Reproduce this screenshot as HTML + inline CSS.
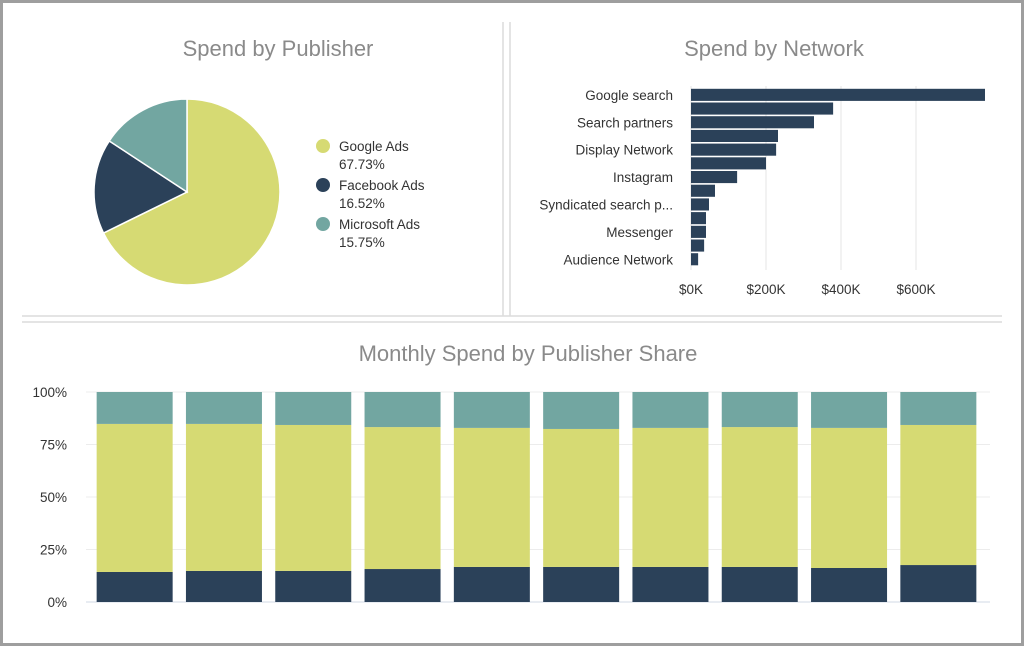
<!DOCTYPE html>
<html><head><meta charset="utf-8"><style>
body{margin:0;width:1024px;height:646px;background:#fff;font-family:"Liberation Sans",sans-serif;overflow:hidden}
#frame{position:absolute;left:0;top:0;width:1018px;height:640px;border:3px solid #9e9e9e}
.t{font-size:22px;fill:#8a8a8a}
.l{font-size:13.5px;fill:#333}
</style></head><body>
<div id="frame"></div>
<svg width="1024" height="646" style="position:absolute;left:0;top:0">
<g stroke="#dcdcdc" stroke-width="1.5">
<line x1="503" y1="22" x2="503" y2="316"/><line x1="510" y1="22" x2="510" y2="316"/>
<line x1="22" y1="316" x2="1002" y2="316"/><line x1="22" y1="322" x2="1002" y2="322"/>
</g>
<text class="t" x="278" y="56" text-anchor="middle">Spend by Publisher</text>
<text class="t" x="774" y="56" text-anchor="middle">Spend by Network</text>
<text class="t" x="528" y="361" text-anchor="middle">Monthly Spend by Publisher Share</text>
<g id="pie"></g>
<g id="legend"></g>
<g id="net"></g>
<g id="mon"></g>
</svg>
<script>
const NS="http://www.w3.org/2000/svg";
const pubNames=["Google Ads","Facebook Ads","Microsoft Ads"];
const pubShares=[67.73,16.52,15.75];
const pubColors=["#d6da73","#2b4159","#72a6a1"];
const netNames=["Google search","","Search partners","","Display Network","","Instagram","","Syndicated search p...","","Messenger","","Audience Network"];
const netValues=[784,379,328,232,227,200,123,64,48,40,40,35,19];
const netTicks=[0,200,400,600];
const monthFacebook=[14.3,14.8,14.8,15.7,16.7,16.7,16.7,16.7,16.2,17.6];
const monthGoogle=[70.5,70.0,69.5,67.6,66.2,65.7,66.2,66.6,66.7,66.7];
const pctTicks=[0,25,50,75,100];
function mk(p,tag,a,txt){const e=document.createElementNS(NS,tag);for(const k in a)e.setAttribute(k,a[k]);if(txt!==undefined)e.textContent=txt;p.appendChild(e);return e;}
// pie
const pie=document.getElementById('pie');const cx=187,cy=192,r=93;let ang=0;
pubShares.forEach((s,i)=>{const a0=ang,a1=ang+s/100*2*Math.PI;ang=a1;
const x0=cx+r*Math.sin(a0),y0=cy-r*Math.cos(a0),x1=cx+r*Math.sin(a1),y1=cy-r*Math.cos(a1);
const p=mk(pie,'path',{d:`M${cx},${cy}L${x0},${y0}A${r},${r} 0 ${a1-a0>Math.PI?1:0} 1 ${x1},${y1}Z`,fill:pubColors[i],stroke:'#fff','stroke-width':1.5});


const lg=document.getElementById('legend');const y=146+i*39;
const c=mk(lg,'circle',{cx:323,cy:y,r:7,fill:pubColors[i]});


const t1=mk(lg,'text',{x:339,y:y+5,class:'l'},pubNames[i]);


const t2=mk(lg,'text',{x:339,y:y+23,class:'l'},s.toFixed(2)+'%');


});
// network bars
const net=document.getElementById('net');const nx0=691,kpx=75/200,ny0=88,band=13.7;
netTicks.forEach(v=>{const x=nx0+v*kpx;
const g=mk(net,'line',{x1:x,y1:86,x2:x,y2:270,stroke:'#e4e4e4'});


const t=mk(net,'text',{x:x,y:294,class:'l','text-anchor':'middle'},'$'+v+'K');

});
netValues.forEach((v,i)=>{const y=ny0+i*band;
const b=mk(net,'rect',{x:nx0,y:y+0.8,width:v*kpx,height:band-1.6,fill:'#2b4159'});


if(netNames[i]){const t=mk(net,'text',{x:673,y:y+band/2+5,class:'l','text-anchor':'end'},netNames[i]);

}});
// monthly
const mon=document.getElementById('mon');const my0=602,mh=210,mx0=90,mw=893,n=monthFacebook.length,step=mw/n,bw=76;
const Y=v=>my0-v/100*mh;
pctTicks.forEach(v=>{const g=mk(mon,'line',{x1:86,y1:Y(v),x2:990,y2:Y(v),stroke:v?'#ececec':'#d0d8e4'});


const t=mk(mon,'text',{x:67,y:Y(v)+5,class:'l','text-anchor':'end'},v+'%');

});
monthFacebook.forEach((f,i)=>{const x=mx0+i*step+(step-bw)/2;const g=monthGoogle[i];
const segs=[[0,f,pubColors[1],'facebook'],[f,f+g,pubColors[0],'google'],[f+g,100,pubColors[2],'microsoft']];
segs.forEach(s=>{const rct=mk(mon,'rect',{x:x,y:Y(s[1]),width:bw,height:Y(s[0])-Y(s[1]),fill:s[2]});

});});
</script>
</body></html>
